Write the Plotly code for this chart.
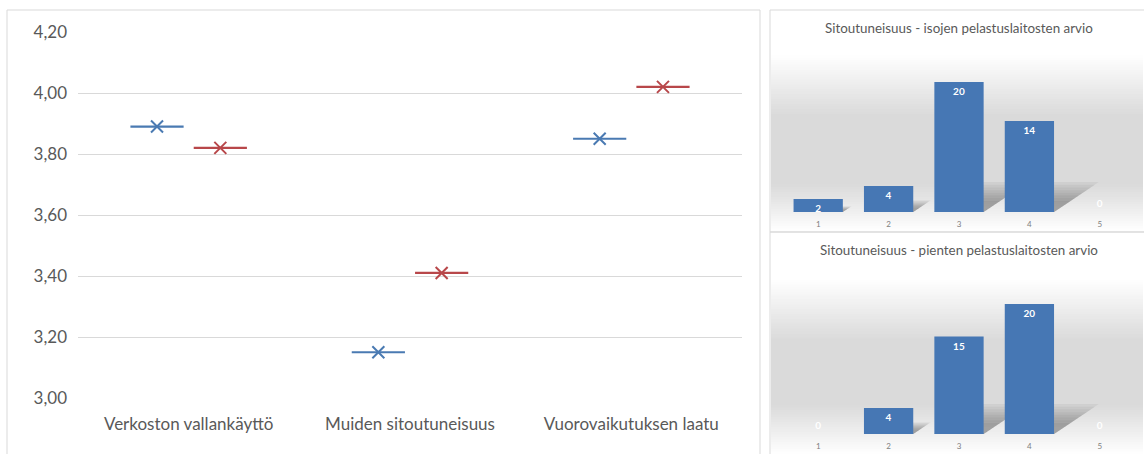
import plotly.graph_objects as go

# --- data -------------------------------------------------------------
categories = ["Verkoston vallankäyttö", "Muiden sitoutuneisuus", "Vuorovaikutuksen laatu"]
series_a = [3.89, 3.15, 3.85]   # blue
series_b = [3.82, 3.41, 4.02]   # red
y_ticks = [3.00, 3.20, 3.40, 3.60, 3.80, 4.00, 4.20]

bar_cats = [1, 2, 3, 4, 5]
large_counts = [2, 4, 20, 14, 0]
small_counts = [0, 4, 15, 20, 0]
title_large = "Sitoutuneisuus - isojen pelastuslaitosten arvio"
title_small = "Sitoutuneisuus - pienten pelastuslaitosten arvio"

W, H = 1144, 454
BLUE = "#4a7ab2"
RED = "#b8474a"
BAR = "#4677b4"
TXT = "#595959"
FONT = "Lato, 'Open Sans', sans-serif"

def px(x):
    return x / W

def py(y):
    return 1 - y / H

fig = go.Figure()

# --- left chart: two series, dash + cross markers --------------------
offset = 0.143
idx = list(range(len(categories)))
for vals, col, sh in [(series_a, BLUE, -offset), (series_b, RED, offset)]:
    xs = [i + sh for i in idx]
    fig.add_trace(go.Scatter(
        x=xs, y=vals, mode="markers", xaxis="x", yaxis="y",
        marker=dict(symbol="line-ew", size=38, line=dict(color=col, width=2.2)),
        hoverinfo="skip", showlegend=False))
    fig.add_trace(go.Scatter(
        x=xs, y=vals, mode="markers", xaxis="x", yaxis="y",
        marker=dict(symbol="x-thin", size=12, line=dict(color=col, width=2)),
        showlegend=False))

# --- right charts: count bars ----------------------------------------
BAR_W = 0.7
TXTF = dict(color="white", size=10, family=FONT, weight="bold")

def bar_trace(vals, xa, ya):
    return go.Bar(
        x=bar_cats, y=vals, xaxis=xa, yaxis=ya, width=BAR_W,
        marker=dict(color=BAR, line=dict(width=0)),
        text=[str(v) for v in vals],
        textposition=["outside" if v == 0 else "inside" for v in vals],
        insidetextanchor="end", textangle=0, constraintext="none",
        textfont=TXTF, insidetextfont=TXTF, outsidetextfont=TXTF,
        cliponaxis=False, showlegend=False)

fig.add_trace(bar_trace(large_counts, "x2", "y2"))
fig.add_trace(bar_trace(small_counts, "x3", "y3"))

# --- backgrounds: frames and soft vertical gradients ------------------
shapes = []

def gradient(x0, x1, y0, y1, ramp_a, ramp_b, fade_a, steps=90):
    # white at top, ramps to light grey, stays, then fades to white at bottom;
    # each band runs to the panel bottom so consecutive bands overlap (no seams)
    for k in range(steps):
        ya = y0 + (y1 - y0) * k / steps
        ym = ya + (y1 - y0) / steps / 2
        if ym < ramp_a:
            f = 0.0
        elif ym < ramp_b:
            f = (ym - ramp_a) / (ramp_b - ramp_a)
        elif ym < fade_a:
            f = 1.0
        else:
            f = max(0.0, 1 - (ym - fade_a) / (y1 - fade_a))
        g = int(round(255 - 37 * f))
        shapes.append(dict(type="rect", xref="paper", yref="paper", layer="below",
                           x0=px(x0), x1=px(x1), y0=py(y1), y1=py(ya),
                           fillcolor=f"rgb({g},{g},{g})", line=dict(width=0)))

gradient(771, 1143, 11, 231, 55, 115, 185)
gradient(771, 1143, 233, 454, 280, 340, 405)

# soft floor shadows behind each bar
Y_UNIT_PX, X_UNIT_PX = 6.5, 70.5

def shadows(vals, xref, yref):
    for c, v in zip(bar_cats, vals):
        if v <= 0:
            continue
        s = min(0.45 * v, 4.6)
        dx = 1.5 * s * Y_UNIT_PX / X_UNIT_PX
        xl, xr = c - BAR_W / 2, c + BAR_W / 2
        for n in range(8):
            scale = 1.0 - n * 0.09
            ss, dd = s * scale, dx * scale
            path = f"M {xl},0 L {xr},0 L {xr + dd},{ss} L {xl + dd},{ss} Z"
            shapes.append(dict(type="path", xref=xref, yref=yref, layer="below",
                               path=path, fillcolor="rgba(70,70,70,0.07)",
                               line=dict(width=0)))

shadows(large_counts, "x2", "y2")
shadows(small_counts, "x3", "y3")

for x0, y0, x1, y1 in [(7, 10, 760, 470), (770, 10, 1150, 232), (770, 232, 1150, 470)]:
    shapes.append(dict(type="rect", xref="paper", yref="paper", layer="below",
                       x0=px(x0), x1=px(x1), y0=py(y1), y1=py(y0),
                       fillcolor="rgba(0,0,0,0)", line=dict(color="#d9d9d9", width=1)))

annotations = [
    dict(text=title_large, x=px(959), y=py(28), xref="paper", yref="paper",
         xanchor="center", yanchor="middle", showarrow=False,
         font=dict(size=13.4, color=TXT, family=FONT)),
    dict(text=title_small, x=px(959), y=py(250), xref="paper", yref="paper",
         xanchor="center", yanchor="middle", showarrow=False,
         font=dict(size=13.4, color=TXT, family=FONT)),
]

small_axis = dict(range=[0.5, 5.5], tickvals=bar_cats, ticktext=[str(c) for c in bar_cats],
                  showgrid=False, zeroline=False, showline=False, automargin=False,
                  tickfont=dict(size=8, color="#7f7f7f", family=FONT), ticks="",
                  ticklabelstandoff=6, fixedrange=True)
small_y = dict(range=[0, 22], visible=False, fixedrange=True, automargin=False)

fig.update_layout(
    width=W, height=H, margin=dict(l=0, r=0, t=0, b=0, pad=0, autoexpand=False),
    paper_bgcolor="white", plot_bgcolor="rgba(0,0,0,0)",
    separators=", ", font=dict(family=FONT, color=TXT),
    shapes=shapes, annotations=annotations,
    xaxis=dict(domain=[px(78), px(742)], range=[-0.5, 2.5], automargin=False,
               tickvals=idx, ticktext=categories, showgrid=False, zeroline=False,
               showline=False, ticks="", tickfont=dict(size=17, color=TXT),
               ticklabelstandoff=14),
    yaxis=dict(domain=[py(398), py(32)], range=[3.0, 4.2], tickvals=y_ticks,
               tickformat=".2f", showgrid=True, gridcolor="#d9d9d9", gridwidth=1,
               zeroline=False, showline=False, ticks="", automargin=False,
               tickfont=dict(size=17, color=TXT), ticklabelstandoff=10),
    xaxis2=dict(domain=[px(783), px(1135)], anchor="y2", **small_axis),
    yaxis2=dict(domain=[py(212), py(69)], anchor="x2", **small_y),
    xaxis3=dict(domain=[px(783), px(1135)], anchor="y3", **small_axis),
    yaxis3=dict(domain=[py(434), py(291)], anchor="x3", **small_y),
    bargap=0.3,
)

fig.write_html("out.html")
